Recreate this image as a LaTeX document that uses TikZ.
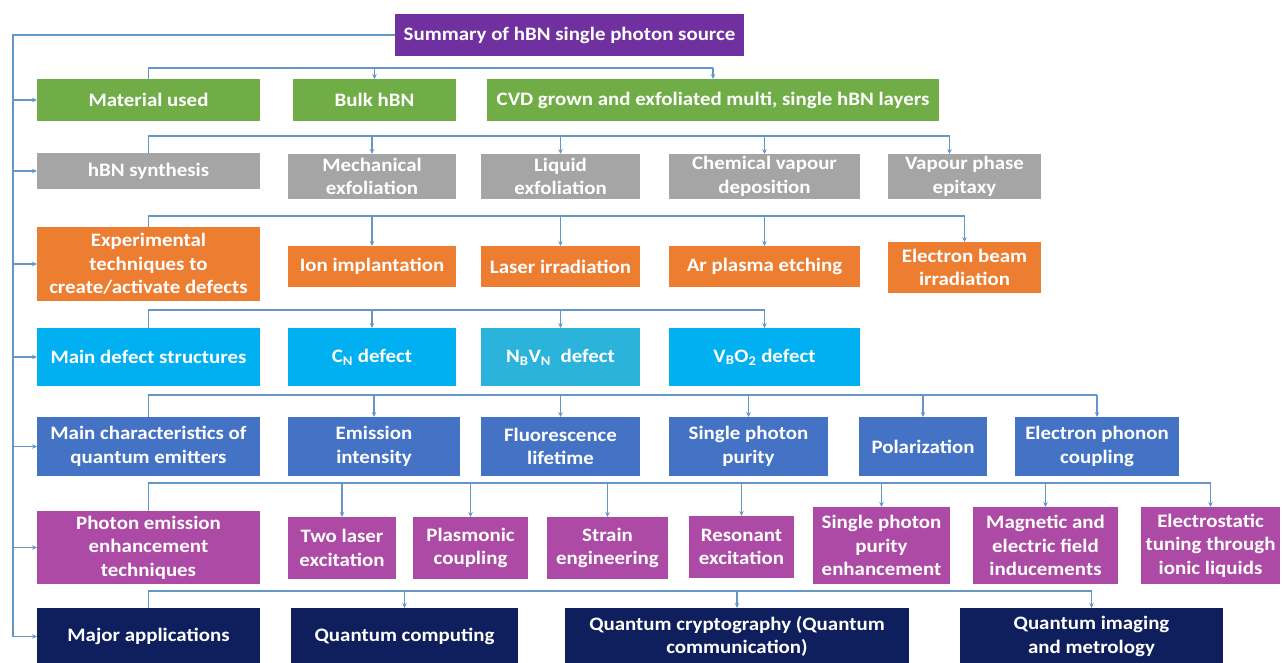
\documentclass[tikz,border=0pt]{standalone}
\usepackage{fontspec}
\setmainfont{Carlito}[FakeStretch=1.1]
\usetikzlibrary{arrows.meta}
\definecolor{cpurple}{HTML}{7030A0}
\definecolor{cgreen}{HTML}{70AD47}
\definecolor{cgray}{HTML}{A5A5A5}
\definecolor{corange}{HTML}{ED7D31}
\definecolor{clblue}{HTML}{00B0F0}
\definecolor{cteal}{HTML}{2CB3DC}
\definecolor{cblue}{HTML}{4472C4}
\definecolor{cmag}{HTML}{AD4AA5}
\definecolor{cnavy}{HTML}{0F1F5E}
\definecolor{cline}{RGB}{100,150,200}
\tikzset{
  box/.style={inner sep=0pt, outer sep=0pt, align=center, text=white,
    font=\fontsize{19}{23.5}\selectfont\bfseries},
  conn/.style={draw=cline, line width=1.2pt},
  arr/.style={conn, -{Stealth[length=5pt,width=4.5pt]}},
}
\begin{document}
\begin{tikzpicture}[x=1pt,y=-1pt]
\useasboundingbox (0,0) rectangle (1282,663);
% title
\node[box, fill=cpurple, minimum width=349, minimum height=42] (title) at (569.5,35) {Summary of hBN single photon source};
% row 1
\node[box, fill=cgreen, minimum width=223, minimum height=42] (mat) at (148.5,100) {Material used};
\node[box, fill=cgreen, minimum width=163, minimum height=42] (bulk) at (374.5,100) {Bulk hBN};
\node[box, fill=cgreen, minimum width=452, minimum height=42] (cvd) at (713,100) {CVD grown and exfoliated multi, single hBN layers};
% row 2
\node[box, fill=cgray, minimum width=223, minimum height=36] (syn) at (148.5,171) {hBN synthesis};
\node[box, fill=cgray, minimum width=168, minimum height=45] (mech) at (372,176.5) {Mechanical\\exfoliation};
\node[box, fill=cgray, minimum width=159, minimum height=45] (liq) at (560.5,176.5) {Liquid\\exfoliation};
\node[box, fill=cgray, minimum width=191, minimum height=45] (chem) at (764.5,176.5) {Chemical vapour\\deposition};
\node[box, fill=cgray, minimum width=153, minimum height=45] (vpe) at (964.5,176.5) {Vapour phase\\epitaxy};
% row 3
\node[box, fill=corange, minimum width=223, minimum height=74] (exp) at (148.5,264) {Experimental\\techniques to\\create/activate defects};
\node[box, fill=corange, minimum width=168, minimum height=41] (ion) at (372,266.5) {Ion implantation};
\node[box, fill=corange, minimum width=159, minimum height=41] (las) at (560.5,266.5) {Laser irradiation};
\node[box, fill=corange, minimum width=191, minimum height=41] (arp) at (764.5,266.5) {Ar plasma etching};
\node[box, fill=corange, minimum width=153, minimum height=51] (ebi) at (964.5,267.5) {Electron beam\\irradiation};
% row 4
\node[box, fill=clblue, minimum width=223, minimum height=58] (def) at (148.5,357) {Main defect structures};
\node[box, fill=clblue, minimum width=168, minimum height=58] (cn) at (372,357) {C\textsubscript{N} defect};
\node[box, fill=cteal, minimum width=159, minimum height=58] (nbvn) at (560.5,357) {N\textsubscript{B}V\textsubscript{N}\ \ defect};
\node[box, fill=clblue, minimum width=191, minimum height=58] (vbo) at (764.5,357) {V\textsubscript{B}O\textsubscript{2} defect};
% row 5
\node[box, fill=cblue, minimum width=223, minimum height=59] (chr) at (148.5,446.5) {Main characteristics of\\quantum emitters};
\node[box, fill=cblue, minimum width=172, minimum height=59] (emi) at (374,446.5) {Emission\\intensity};
\node[box, fill=cblue, minimum width=159, minimum height=59] (flu) at (560.5,446.5) {Fluorescence\\lifetime};
\node[box, fill=cblue, minimum width=159, minimum height=59] (spp) at (748.5,446.5) {Single photon\\purity};
\node[box, fill=cblue, minimum width=128, minimum height=59] (pol) at (923,446.5) {Polarization};
\node[box, fill=cblue, minimum width=164, minimum height=59] (epc) at (1097,446.5) {Electron phonon\\coupling};
% row 6
\node[box, fill=cmag, minimum width=223, minimum height=73] (phe) at (148.5,547.5) {Photon emission\\enhancement\\techniques};
\node[box, fill=cmag, minimum width=108, minimum height=62] (two) at (342,548) {Two laser\\excitation};
\node[box, fill=cmag, minimum width=115, minimum height=62] (pla) at (470.5,548) {Plasmonic\\coupling};
\node[box, fill=cmag, minimum width=121, minimum height=62] (str) at (607.5,548) {Strain\\engineering};
\node[box, fill=cmag, minimum width=105, minimum height=62] (res) at (741.5,547) {Resonant\\excitation};
\node[box, fill=cmag, minimum width=137, minimum height=77] (spe) at (881.5,545.5) {Single photon\\purity\\enhancement};
\node[box, fill=cmag, minimum width=145, minimum height=77] (mag) at (1045.5,545.5) {Magnetic and\\electric field\\inducements};
\node[box, fill=cmag, minimum width=139, minimum height=77] (els) at (1210.5,545.5) {Electrostatic\\tuning through\\ionic liquids};
% row 7
\node[box, fill=cnavy, minimum width=223, minimum height=57] (maj) at (148.5,636.5) {Major applications};
\node[box, fill=cnavy, minimum width=227, minimum height=57] (qc) at (404.5,636.5) {Quantum computing};
\node[box, fill=cnavy, minimum width=344, minimum height=57] (qcr) at (737,636.5) {Quantum cryptography (Quantum\\communication)};
\node[box, fill=cnavy, minimum width=263, minimum height=57] (qim) at (1091.5,636.5) {Quantum imaging\\and metrology};
% connector rail coordinates
\coordinate (L) at (13,35);
\coordinate (r1) at (0,68);
\coordinate (r2) at (0,136);
\coordinate (r3) at (0,216);
\coordinate (r4) at (0,310);
\coordinate (r5) at (0,395);
\coordinate (r6) at (0,483);
\coordinate (r7) at (0,591);
% left spine
\draw[conn] (title.west) -- (L) -- (L |- maj.west);
\foreach \n in {mat,syn,exp,def,chr,phe,maj}{
  \draw[arr] (L |- \n.west) -- (\n.west);
}
% row 1
\draw[conn] (mat.north) |- (cvd.north |- r1);
\foreach \n in {bulk,cvd}{ \draw[arr] (\n.north |- r1) -- (\n.north); }
% row 2
\coordinate (vpeT) at ([xshift=-15pt]vpe.north);
\draw[conn] (syn.north) |- (vpeT |- r2);
\foreach \n in {mech,liq,chem}{ \draw[arr] (\n.north |- r2) -- (\n.north); }
\draw[arr] (vpeT |- r2) -- (vpeT);
% row 3
\draw[conn] (exp.north) |- (ebi.north |- r3);
\foreach \n in {ion,las,arp,ebi}{ \draw[arr] (\n.north |- r3) -- (\n.north); }
% row 4
\draw[conn] (def.north) |- (vbo.north |- r4);
\foreach \n in {cn,nbvn,vbo}{ \draw[arr] (\n.north |- r4) -- (\n.north); }
% row 5
\draw[conn] (chr.north) |- (epc.north |- r5);
\foreach \n in {emi,flu,spp,pol,epc}{ \draw[arr] (\n.north |- r5) -- (\n.north); }
% row 6
\draw[conn] (phe.north) |- (els.north |- r6);
\foreach \n in {two,pla,str,res,spe,mag,els}{ \draw[arr] (\n.north |- r6) -- (\n.north); }
% row 7
\draw[conn] (maj.north) |- (qim.north |- r7);
\foreach \n in {qc,qcr,qim}{ \draw[arr] (\n.north |- r7) -- (\n.north); }
\end{tikzpicture}
\end{document}
